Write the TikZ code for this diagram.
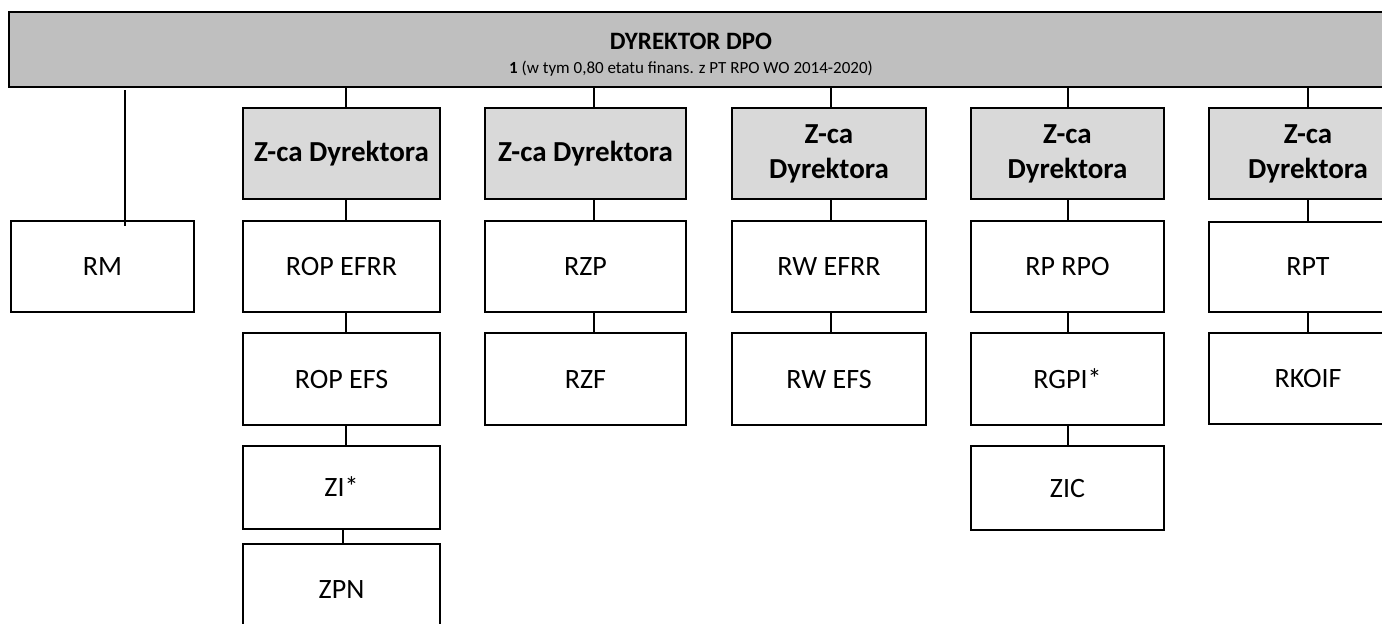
\documentclass[tikz,border=0pt]{standalone}
\usepackage{fontspec}
\setmainfont{Carlito}
\definecolor{topgray}{HTML}{BFBFBF}
\definecolor{zgray}{HTML}{D9D9D9}
\tikzset{
  unitbox/.style={draw=black, line width=2pt, fill=white, inner sep=0pt, align=center,
    minimum height=91pt, text height=18pt, text depth=0pt, font=\fontsize{28}{34}\selectfont},
  deputy/.style={draw=black, line width=2pt, fill=zgray, inner sep=0pt, align=center,
    minimum height=91pt, font=\fontsize{29}{35}\selectfont\bfseries},
  link/.style={draw=black, line width=2pt},
}
\begin{document}
\begin{tikzpicture}[x=1pt,y=-1pt]
\path[use as bounding box, clip] (0,0) rectangle (1382,624);
% top box
\node[draw=black, line width=2pt, fill=topgray, minimum width=1392pt, minimum height=75pt, anchor=north west, inner sep=0pt] (top) at (8,11) {};
\node[font=\fontsize{25}{28}\selectfont\bfseries, inner sep=0pt] (title) at (691,41) {DYREKTOR DPO};
\node[font=\fontsize{17}{20}\selectfont, inner sep=0pt] (sub) at (691,69) {\textbf{1} (w tym 0,80 etatu finans. z PT RPO WO 2014-2020)};
% RM
\node[unitbox, minimum width=183pt] (rm) at (102.5,266.5) {RM};
% column 1
\node[deputy, minimum width=197pt] (z1) at (341.5,153.5) {Z-ca Dyrektora};
\node[unitbox, minimum width=197pt] (c1a) at (341.5,266.5) {ROP EFRR};
\node[unitbox, minimum width=197pt, minimum height=92pt] (c1b) at (341.5,379) {ROP EFS};
\node[unitbox, minimum width=197pt, minimum height=83pt] (c1c) at (341.5,487.5) {ZI*};
\node[unitbox, minimum width=197pt] (c1d) at (341.5,589.5) {ZPN};
% column 2
\node[deputy, minimum width=201pt] (z2) at (585.5,153.5) {Z-ca Dyrektora};
\node[unitbox, minimum width=201pt] (c2a) at (585.5,266.5) {RZP};
\node[unitbox, minimum width=201pt, minimum height=92pt] (c2b) at (585.5,379) {RZF};
% column 3
\node[deputy, minimum width=194pt] (z3) at (829,153.5) {Z-ca\\Dyrektora};
\node[unitbox, minimum width=194pt] (c3a) at (829,266.5) {RW EFRR};
\node[unitbox, minimum width=194pt, minimum height=92pt] (c3b) at (829,379) {RW EFS};
% column 4
\node[deputy, minimum width=193pt] (z4) at (1067.5,153.5) {Z-ca\\Dyrektora};
\node[unitbox, minimum width=193pt] (c4a) at (1067.5,266.5) {RP RPO};
\node[unitbox, minimum width=193pt, minimum height=92pt] (c4b) at (1067.5,379) {RGPI*};
\node[unitbox, minimum width=193pt, minimum height=84pt] (c4c) at (1067.5,488) {ZIC};
% column 5
\node[deputy, minimum width=198pt] (z5) at (1308,153.5) {Z-ca\\Dyrektora};
\node[unitbox, minimum width=198pt, minimum height=90pt] (c5a) at (1308,266.5) {RPT};
\node[unitbox, minimum width=198pt, minimum height=91pt] (c5b) at (1308,378) {RKOIF};
% connectors from director
\coordinate (rmtop) at (125,90);
\draw[link] (rmtop) -- ([xshift=22.5pt,yshift=-6pt]rm.north);
\draw[link] ([xshift=4.5pt]z1.north) -- ([xshift=4.5pt]z1.north |- top.south);
\draw[link] ([xshift=8.5pt]z2.north) -- ([xshift=8.5pt]z2.north |- top.south);
\draw[link] ([xshift=2pt]z3.north) -- ([xshift=2pt]z3.north |- top.south);
\draw[link] ([xshift=0.5pt]z4.north) -- ([xshift=0.5pt]z4.north |- top.south);
\draw[link] (z5.north) -- (z5.north |- top.south);
% column connectors
\draw[link] ([xshift=4.5pt]z1.south) -- ([xshift=4.5pt]c1a.north);
\draw[link] ([xshift=4.5pt]c1a.south) -- ([xshift=4.5pt]c1b.north);
\draw[link] ([xshift=4.5pt]c1b.south) -- ([xshift=4.5pt]c1c.north);
\draw[link] ([xshift=1.5pt]c1c.south) -- ([xshift=1.5pt]c1d.north);
\draw[link] ([xshift=8.5pt]z2.south) -- ([xshift=8.5pt]c2a.north);
\draw[link] ([xshift=8.5pt]c2a.south) -- ([xshift=8.5pt]c2b.north);
\draw[link] ([xshift=2pt]z3.south) -- ([xshift=2pt]c3a.north);
\draw[link] ([xshift=2pt]c3a.south) -- ([xshift=2pt]c3b.north);
\draw[link] ([xshift=0.5pt]z4.south) -- ([xshift=0.5pt]c4a.north);
\draw[link] ([xshift=0.5pt]c4a.south) -- ([xshift=0.5pt]c4b.north);
\draw[link] ([xshift=0.5pt]c4b.south) -- ([xshift=0.5pt]c4c.north);
\draw[link] (z5.south) -- (c5a.north);
\draw[link] (c5a.south) -- (c5b.north);
\end{tikzpicture}
\end{document}
